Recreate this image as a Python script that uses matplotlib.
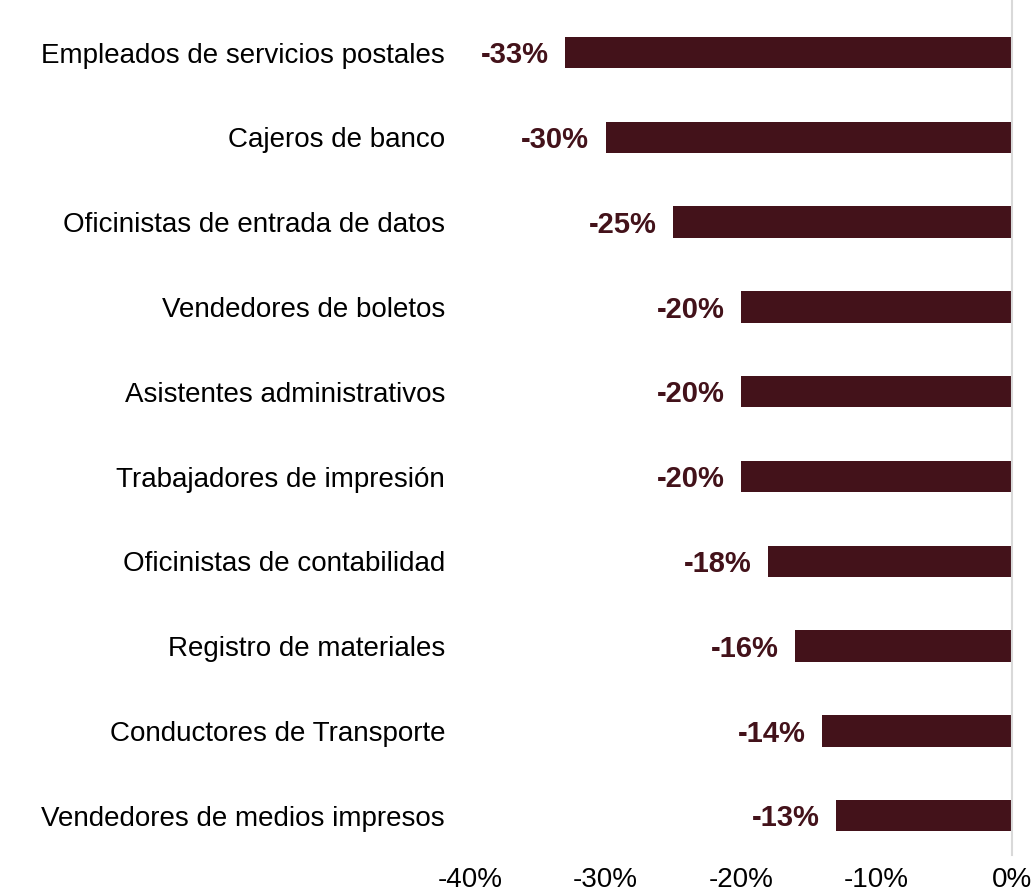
import matplotlib
matplotlib.use("Agg")
import matplotlib.pyplot as plt
from matplotlib.ticker import FuncFormatter

plt.rcParams['font.family'] = ['Liberation Sans', 'DejaVu Sans']

categories = [
    "Empleados de servicios postales",
    "Cajeros de banco",
    "Oficinistas de entrada de datos",
    "Vendedores de boletos",
    "Asistentes administrativos",
    "Trabajadores de impresión",
    "Oficinistas de contabilidad",
    "Registro de materiales",
    "Conductores de Transporte",
    "Vendedores de medios impresos",
]
values = [-33, -30, -25, -20, -20, -20, -18, -16, -14, -13]
xticks = [-40, -30, -20, -10, 0]

bar_color = "#43121a"

fig = plt.figure(figsize=(10.36, 8.96), dpi=100)
ax = fig.add_axes([0.4537, 0.046, 0.5232, 0.954])

pos = list(range(len(categories)))
ax.barh(pos, values, height=0.37, color=bar_color)

# value labels just left of each bar
for p, v in zip(pos, values):
    ax.text(v - 1.2, p + 0.03, f"{v}%", ha="right", va="center",
            fontsize=21, fontweight="bold", color=bar_color)

ax.set_xlim(-40, 0)
ax.set_ylim(9.46, -0.62)
ax.set_yticks(pos)
ax.set_yticklabels(categories, fontsize=20)
ax.set_xticks(xticks)
ax.xaxis.set_major_formatter(FuncFormatter(lambda x, _: f"{int(x)}%"))
ax.tick_params(axis="x", labelsize=20, length=0, pad=9)
ax.tick_params(axis="y", length=0, pad=18)

for s in ["top", "bottom", "left"]:
    ax.spines[s].set_visible(False)
ax.spines["right"].set_color("#d9d9d9")
ax.spines["right"].set_linewidth(1.5)

fig.savefig("out.png", dpi=100)
